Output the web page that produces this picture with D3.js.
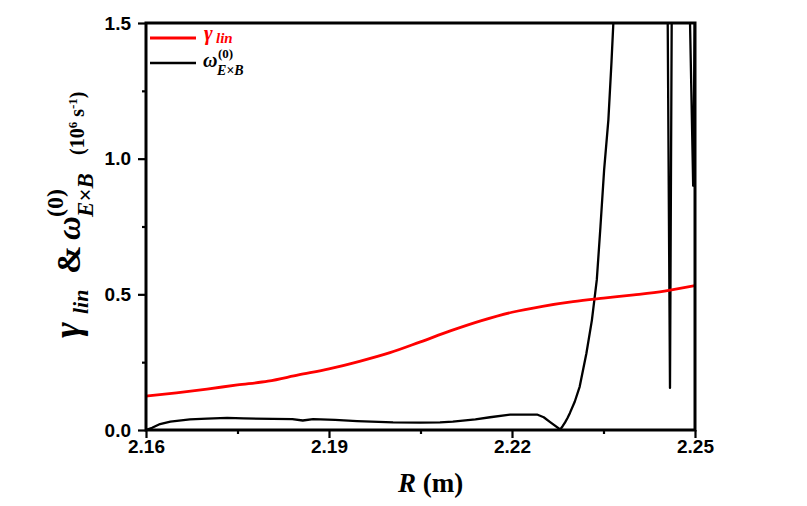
<!DOCTYPE html>
<html>
<head>
<meta charset="utf-8">
<script src="https://cdn.jsdelivr.net/npm/d3@7"></script>
<style>
  html, body { margin: 0; padding: 0; background: #fff; }
  svg { display: block; }
</style>
</head>
<body>
<svg id="chart" width="807" height="506"></svg>
<script>
// ---------- data ----------
const gammaR = [2.160, 2.165, 2.170, 2.175, 2.180, 2.185, 2.190, 2.195, 2.200, 2.205,
                2.210, 2.215, 2.220, 2.225, 2.230, 2.235, 2.240, 2.245, 2.250];
const gammaV = [0.125, 0.137, 0.151, 0.166, 0.180, 0.203, 0.225, 0.253, 0.285, 0.325,
                0.366, 0.403, 0.434, 0.456, 0.473, 0.486, 0.498, 0.512, 0.532];

const omegaR = [2.1600, 2.1610, 2.1623, 2.1640, 2.1672, 2.1700, 2.1733, 2.1760, 2.1808, 2.1840,
                2.1857, 2.1874, 2.1910, 2.1946, 2.2005, 2.2050, 2.2082, 2.2103, 2.2140, 2.2164,
                2.2197, 2.2241, 2.2252, 2.2262, 2.2279, 2.2283, 2.2287, 2.2291, 2.2295, 2.2303,
                2.2311, 2.2322, 2.2331, 2.2339, 2.2345, 2.2351, 2.2358, 2.2363, 2.2366, 2.2372,
                2.2400, 2.2430, 2.2455, 2.2459, 2.2462, 2.2475, 2.2491, 2.2497, 2.2500];
const omegaV = [0.000, 0.008, 0.022, 0.031, 0.039, 0.042, 0.045, 0.043, 0.041, 0.040,
                0.035, 0.040, 0.037, 0.033, 0.028, 0.027, 0.028, 0.031, 0.039, 0.047,
                0.057, 0.057, 0.047, 0.030, 0.002, 0.014, 0.028, 0.044, 0.063, 0.105,
                0.160, 0.283, 0.405, 0.553, 0.749, 0.958, 1.143, 1.352, 1.493, 1.800,
                2.600, 2.600, 1.600, 0.155, 1.600, 2.400, 1.600, 0.900, 1.600];

const xMajor = [2.16, 2.19, 2.22, 2.25];
const xMinor = [2.175, 2.205, 2.235];
const yMajor = [0.0, 0.5, 1.0, 1.5];
const yMinor = [0.25, 0.75, 1.25];
const xTickLabels = ["2.16", "2.19", "2.22", "2.25"];
const yTickLabels = ["0.0", "0.5", "1.0", "1.5"];

// ---------- layout ----------
const svg = d3.select("#chart");
const L = 146, R = 695, T = 23, B = 430;
const x = d3.scaleLinear().domain([2.16, 2.25]).range([L, R]);
const y = d3.scaleLinear().domain([0, 1.5]).range([B, T]);

const tickFont = "'Liberation Sans', Arial, sans-serif";
const serif = "'Liberation Serif', 'Times New Roman', serif";

svg.append("defs").append("clipPath").attr("id", "plotclip")
  .append("rect").attr("x", L).attr("y", T).attr("width", R - L).attr("height", B - T);

// axes
function styleAxis(g) {
  g.select(".domain").remove();
  g.selectAll(".tick line").attr("stroke", "#000").attr("stroke-width", 2.2);
  g.selectAll(".tick text").attr("fill", "#000")
    .style("font-family", tickFont).style("font-weight", "bold").style("font-size", "19px");
}
const xAxis = svg.append("g").attr("transform", `translate(0,${B})`)
  .call(d3.axisBottom(x).tickValues(xMajor).tickSize(8).tickPadding(2)
    .tickFormat((d, i) => xTickLabels[i]));
styleAxis(xAxis);
const xAxisMinor = svg.append("g").attr("transform", `translate(0,${B})`)
  .call(d3.axisBottom(x).tickValues(xMinor).tickSize(4).tickFormat(""));
styleAxis(xAxisMinor);

const yAxis = svg.append("g").attr("transform", `translate(${L},0)`)
  .call(d3.axisLeft(y).tickValues(yMajor).tickSize(8).tickPadding(7)
    .tickFormat((d, i) => yTickLabels[i]));
styleAxis(yAxis);
const yAxisMinor = svg.append("g").attr("transform", `translate(${L},0)`)
  .call(d3.axisLeft(y).tickValues(yMinor).tickSize(4).tickFormat(""));
styleAxis(yAxisMinor);

// lines
const gammaData = gammaR.map((r, i) => [r, gammaV[i]]);
const omegaData = omegaR.map((r, i) => [r, omegaV[i]]);

const plot = svg.append("g").attr("clip-path", "url(#plotclip)");
plot.append("path").datum(omegaData)
  .attr("fill", "none").attr("stroke", "#000").attr("stroke-width", 2.3)
  .attr("stroke-linejoin", "round")
  .attr("d", d3.line().x(d => x(d[0])).y(d => y(d[1])));
plot.append("path").datum(gammaData)
  .attr("fill", "none").attr("stroke", "#ff0000").attr("stroke-width", 2.8)
  .attr("d", d3.line().curve(d3.curveMonotoneX).x(d => x(d[0])).y(d => y(d[1])));

// frame
svg.append("rect").attr("x", L).attr("y", T).attr("width", R - L).attr("height", B - T)
  .attr("fill", "none").attr("stroke", "#000").attr("stroke-width", 3);

// legend
svg.append("line").attr("x1", 150).attr("x2", 196).attr("y1", 38).attr("y2", 38)
  .attr("stroke", "#ff0000").attr("stroke-width", 2.8);
svg.append("line").attr("x1", 150).attr("x2", 196).attr("y1", 63).attr("y2", 63)
  .attr("stroke", "#000").attr("stroke-width", 2.3);

function txt(parent, s, xx, yy, size, opts = {}) {
  return parent.append("text").attr("x", xx).attr("y", yy).text(s)
    .style("font-family", opts.family || serif)
    .style("font-weight", "bold")
    .style("font-style", opts.italic ? "italic" : "normal")
    .style("font-size", size + "px")
    .attr("fill", opts.fill || "#000");
}
txt(svg, "γ", 204, 40, 21, { italic: true, fill: "#ff0000" });
txt(svg, "lin", 216, 43, 15, { italic: true, fill: "#ff0000" });
txt(svg, "ω", 203, 67, 20, { italic: true });
txt(svg, "(0)", 218, 58, 13);
txt(svg, "E×B", 217, 75, 14, { italic: true });

// x label
const xl = svg.append("text").attr("x", 398).attr("y", 492)
  .style("font-family", serif).style("font-weight", "bold").style("font-size", "27px");
xl.append("tspan").style("font-style", "italic").text("R");
xl.append("tspan").text(" (m)");

// y label (rotated)
const yl = svg.append("g").attr("transform", "rotate(-90)");
txt(yl, "γ", -338, 80, 38, { italic: true });
txt(yl, "lin", -314, 88, 22, { italic: true });
txt(yl, "&", -274, 80, 34);
txt(yl, "ω", -240, 80, 33, { italic: true });
txt(yl, "(0)", -217, 63, 24);
txt(yl, "E×B", -217, 93, 23, { italic: true });
const u = yl.append("text").attr("x", -155).attr("y", 84)
  .style("font-family", serif).style("font-weight", "bold").style("font-size", "20px");
u.append("tspan").text("(10");
u.append("tspan").attr("dy", -7).style("font-size", "13px").text("6");
u.append("tspan").attr("dy", 7).text(" s");
u.append("tspan").attr("dy", -7).style("font-size", "13px").text("-1");
u.append("tspan").attr("dy", 7).text(")");
</script>
</body>
</html>
